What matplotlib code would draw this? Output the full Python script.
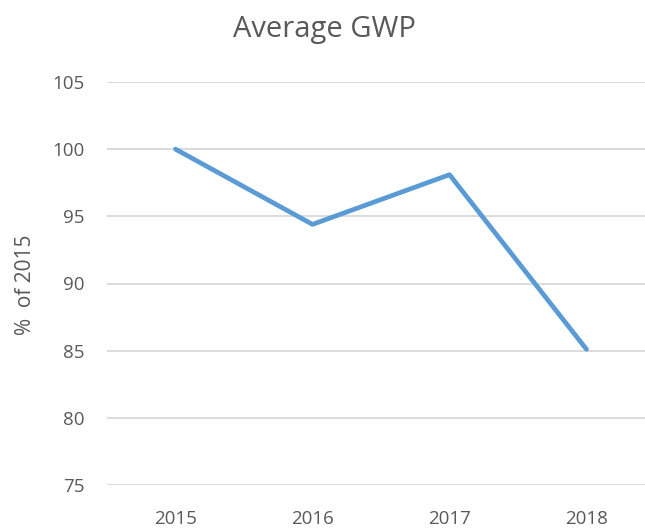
import matplotlib
matplotlib.use("Agg")
import matplotlib.pyplot as plt

years = ["2015", "2016", "2017", "2018"]
values = [100.0, 94.4, 98.1, 85.1]
yticks = [75, 80, 85, 90, 95, 100, 105]

plt.rcParams['font.family'] = ['Open Sans', 'DejaVu Sans']
text_color = "#595959"

fig = plt.figure(figsize=(6.45, 5.29), dpi=100)
W, H = 645, 529
left, right = 107, 655
top, bottom = 82, 485
ax = fig.add_axes([left / W, (H - bottom) / H, (right - left) / W, (bottom - top) / H])

x = list(range(len(years)))
ax.plot(x, values, color="#5B9BD5", lw=3.4, solid_capstyle="round", solid_joinstyle="round", zorder=3)

ax.set_xlim(-0.5, len(years) - 0.5)
ax.set_ylim(75, 105)
ax.set_yticks(yticks)
ax.set_xticks(x)
ax.set_xticklabels(years)
ax.yaxis.grid(True, color="#D9D9D9", lw=1.3)
ax.set_axisbelow(True)
for s in ax.spines.values():
    s.set_visible(False)
ax.tick_params(axis="both", length=0, labelsize=13.5, colors=text_color)
ax.tick_params(axis="y", pad=16)
ax.tick_params(axis="x", pad=18)

fig.text(324 / W, 1 - 29 / H, "Average GWP", ha="center", va="center", fontsize=21, color=text_color)
fig.text(26 / W, 1 - 285 / H, "%  of 2015", ha="center", va="center", rotation=90, fontsize=15, color=text_color)

fig.savefig("out.png", dpi=100)
